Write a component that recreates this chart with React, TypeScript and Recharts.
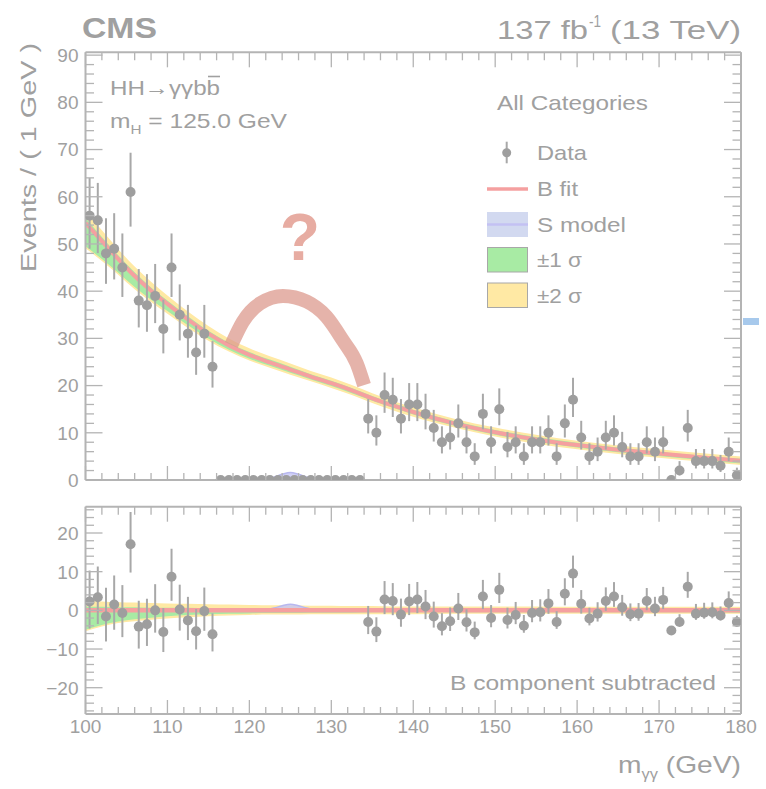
import React from 'react';
import { ComposedChart, Area, Line, Scatter, ErrorBar, XAxis, YAxis } from 'recharts';

// 1 GeV bins, signal region 115-135 blinded
const lowBins = [100.5, 101.5, 102.5, 103.5, 104.5, 105.5, 106.5, 107.5, 108.5, 109.5, 110.5, 111.5, 112.5, 113.5, 114.5, 115.5];
const lowCounts = [56, 55, 48, 49, 45, 61, 38, 37, 39, 32, 45, 35, 31, 27, 31, 24];
const lowResid = [2.3, 3.4, -1.6, 1.5, -0.7, 17.1, -4.2, -3.6, 0.0, -5.6, 8.7, 0.2, -2.6, -5.4, -0.2, -6.2];

const blindBins = [116.5, 117.5, 118.5, 119.5, 120.5, 121.5, 122.5, 123.5, 124.5, 125.5, 126.5, 127.5, 128.5, 129.5, 130.5, 131.5, 132.5, 133.5];

const highBins = [
  134.5, 135.5, 136.5, 137.5, 138.5, 139.5, 140.5, 141.5, 142.5, 143.5, 144.5, 145.5, 146.5, 147.5, 148.5, 149.5,
  150.5, 151.5, 152.5, 153.5, 154.5, 155.5, 156.5, 157.5, 158.5, 159.5, 160.5, 161.5, 162.5, 163.5, 164.5, 165.5,
  166.5, 167.5, 168.5, 169.5, 170.5, 171.5, 172.5, 173.5, 174.5, 175.5, 176.5, 177.5, 178.5, 179.5,
];
const highCounts = [
  13, 10, 18, 17, 13, 16, 16, 14, 11, 8, 9, 12, 8, 5, 14, 8,
  15, 7, 8, 5, 8, 8, 10, 5, 12, 17, 9, 5, 6, 9, 10, 7,
  5, 5, 8, 6, 8, 0, 2, 11, 4, 4, 4, 3, 6, 1,
];
const highResid = [
  -3.0, -5.5, 2.8, 2.4, -1.1, 2.3, 2.8, 1.0, -1.6, -4.1, -2.8, 0.5, -3.1, -5.7, 3.6, -2.0,
  5.3, -2.5, -1.2, -4.0, -0.7, -0.5, 1.8, -3.0, 4.3, 9.5, 1.7, -2.1, -0.9, 2.4, 3.6, 0.8,
  -1.0, -0.9, 2.4, 0.5, 2.7, -5.2, -3.0, 6.1, -0.9, -0.6, -0.5, -1.3, 1.9, -3.0,
];

// background fit and its uncertainty bands (offsets from the fit)
const fitX = [100, 102, 104, 106, 108, 110, 112.5, 115, 117.5, 120, 122.5, 125, 127.5, 130, 132.5, 135, 137.5, 140, 145, 150, 155, 160, 165, 170, 175, 180];
const fitB = [54.5, 50.6, 46.8, 43.2, 40.1, 37.3, 34.0, 31.0, 28.5, 26.5, 24.9, 23.4, 21.9, 20.5, 19.0, 17.3, 15.8, 14.4, 12.0, 10.1, 8.6, 7.4, 6.4, 5.6, 4.8, 4.1];
const sig1Lo = [-5.0, -3.8, -2.9, -2.3, -1.9, -1.5, -1.2, -1.0, -0.9, -0.8, -0.7, -0.7, -0.6, -0.6, -0.6, -0.5, -0.5, -0.5, -0.5, -0.5, -0.5, -0.5, -0.5, -0.5, -0.5, -0.6];
const sig1Hi = [1.0, 0.9, 0.8, 0.8, 0.7, 0.7, 0.7, 0.6, 0.6, 0.6, 0.6, 0.6, 0.5, 0.5, 0.5, 0.5, 0.5, 0.5, 0.5, 0.5, 0.5, 0.5, 0.5, 0.4, 0.4, 0.4];
const sig2Lo = [-5.4, -4.2, -3.3, -2.8, -2.4, -2.1, -1.8, -1.5, -1.3, -1.2, -1.1, -1.1, -1.0, -1.0, -1.0, -1.0, -1.0, -1.0, -0.9, -0.9, -0.9, -0.9, -0.9, -0.9, -0.9, -0.9];
const sig2Hi = [2.5, 2.3, 2.1, 2.0, 1.9, 1.8, 1.7, 1.6, 1.5, 1.4, 1.3, 1.3, 1.2, 1.2, 1.1, 1.1, 1.0, 1.0, 1.0, 1.0, 1.0, 0.9, 0.9, 0.9, 0.9, 0.9];

// signal model
const sigX = [120, 121, 122, 123, 124, 125, 126, 127, 128, 129, 130];
const sigY = [0, 0.05, 0.2, 0.6, 1.2, 1.6, 1.2, 0.6, 0.2, 0.05, 0];

// hand-drawn "?" bump
const arcX = [117.8, 119.2, 121.3, 124.1, 127.0, 129.4, 131.4, 133.1, 134.0];
const arcY = [28.6, 33.5, 37.4, 39.0, 37.8, 34.6, 29.6, 24.7, 20.1];

const xMajor = [100, 110, 120, 130, 140, 150, 160, 170, 180];
const topYMajor = [0, 10, 20, 30, 40, 50, 60, 70, 80, 90];
const botYMajor = [-20, -10, 0, 10, 20];

const FONT = '"Liberation Sans", Arial, Helvetica, sans-serif';
const TXT = '#a0a0a0';
const AX = '#b4b4b4';
const PT = '#9e9e9e';
const RED = '#f5a0a0';
const GREEN = '#a8eba4';
const YELLOW = '#ffe9a4';

const poisson = (n: number) => {
  const s = Math.sqrt(n + 0.25);
  return [s - 0.5, s + 0.5];
};

const steps = (a: number, b: number) => {
  const out: number[] = [];
  for (let v = a; v <= b + 1e-9; v += 2) out.push(v);
  return out;
};
const xTicks = steps(100, 180);
const topYTicks = steps(0, 90);
const botYTicks = steps(-26, 26);

const topPts = [
  ...lowBins.map((x, i) => ({ x, y: lowCounts[i], err: poisson(lowCounts[i]) })),
  ...highBins.map((x, i) => ({ x, y: highCounts[i], err: poisson(highCounts[i]) })),
];
const botPts = [
  ...lowBins.map((x, i) => ({ x, y: lowResid[i], err: poisson(lowCounts[i]) })),
  ...highBins.map((x, i) => ({ x, y: highResid[i], err: poisson(highCounts[i]) })),
];
const blindPts = blindBins.map((x) => ({ x, y: 0 }));

const topBand = fitX.map((x, i) => ({
  x,
  b: fitB[i],
  g: [fitB[i] + sig1Lo[i], fitB[i] + sig1Hi[i]],
  yl: [fitB[i] + sig2Lo[i], fitB[i] + sig2Hi[i]],
}));
const botBand = fitX.map((x, i) => ({
  x,
  b: 0,
  g: [sig1Lo[i], sig1Hi[i]],
  yl: [sig2Lo[i], sig2Hi[i]],
}));
const sigRows = sigX.map((x, i) => ({ x, s: sigY[i] }));
const arcRows = arcX.map((x, i) => ({ x, a: arcY[i] }));

const makeTick = (side: string, major: number, minor: number, labels: number[] | null) => (p: any) => {
  const { x, y, payload } = p;
  const v = Number(payload.value);
  const big = Math.abs(v % 10) < 1e-6;
  const len = big ? major : minor;
  const x2 = side === 'left' ? x + len : side === 'right' ? x - len : x;
  const y2 = side === 'bottom' ? y - len : side === 'top' ? y + len : y;
  let label = null;
  if (labels && labels.includes(v)) {
    const s = v < 0 ? '\u2212' + Math.abs(v) : String(v);
    label =
      side === 'bottom' ? (
        <text x={x} y={y + 19} textAnchor="middle" fill={TXT} fontSize={19} fontFamily={FONT}>{s}</text>
      ) : (
        <text x={x - 7} y={y} dy="0.36em" textAnchor="end" fill={TXT} fontSize={19} fontFamily={FONT}>{s}</text>
      );
  }
  return (
    <g>
      <line x1={x} y1={y} x2={x2} y2={y2} stroke={AX} strokeWidth={1.3} />
      {label}
    </g>
  );
};

const axisLine = { stroke: AX, strokeWidth: 2 };

// axes need a non-zero size to be drawn, so they get 1px and the margins shrink by 1
const Axes = ({ yDomain, yTicks, yLabels, xLabels }: any) => [
  <XAxis key="xb" type="number" dataKey="x" domain={[100, 180]} allowDataOverflow ticks={xTicks} interval={0}
    height={1} tickSize={0} tickMargin={0} tickLine={false} axisLine={axisLine}
    tick={makeTick('bottom', 14, 7, xLabels)} />,
  <XAxis key="xt" xAxisId="top" orientation="top" type="number" dataKey="x" domain={[100, 180]} allowDataOverflow
    ticks={xTicks} interval={0} height={1} tickSize={0} tickMargin={0} tickLine={false} axisLine={axisLine}
    tick={makeTick('top', 15, 8, null)} />,
  <YAxis key="yl" type="number" domain={yDomain} allowDataOverflow ticks={yTicks} interval={0} width={1}
    tickSize={0} tickMargin={0} tickLine={false} axisLine={axisLine}
    tick={makeTick('left', 17, 8.5, yLabels)} />,
  <YAxis key="yr" yAxisId="right" orientation="right" type="number" domain={yDomain} allowDataOverflow ticks={yTicks}
    interval={0} width={1} tickSize={0} tickMargin={0} tickLine={false} axisLine={axisLine}
    tick={makeTick('right', 17, 8.5, null)} />,
];

const txt = { fill: TXT, fontFamily: FONT } as const;

export default function App() {
  return (
    <div style={{ position: 'absolute', left: 0, top: 0, width: 766, height: 789, background: '#fff' }}>
      <ComposedChart width={766} height={500} margin={{ top: 51.3, right: 24, bottom: 19, left: 84.5 }}
        style={{ position: 'absolute', left: 0, top: 0 }}>
        {Axes({ yDomain: [0, 90.6], yTicks: topYTicks, yLabels: topYMajor, xLabels: null })}
        <Area data={topBand} dataKey="yl" type="monotone" fill={YELLOW} fillOpacity={1} stroke="none" isAnimationActive={false} />
        <Area data={topBand} dataKey="g" type="monotone" fill={GREEN} fillOpacity={1} stroke="none" isAnimationActive={false} />
        <Line data={topBand} dataKey="b" type="monotone" stroke={RED} strokeWidth={4} dot={false} isAnimationActive={false} />
        <Area data={sigRows} dataKey="s" type="monotone" baseValue={0} fill="#c6c6f4" fillOpacity={0.8} stroke="#b8b8f0" strokeWidth={1.5} isAnimationActive={false} />
        <Scatter data={topPts} dataKey="y" fill={PT} shape={(p: any) => <circle cx={p.cx} cy={p.cy} r={5} fill={PT} />} isAnimationActive={false}>
          <ErrorBar dataKey="err" direction="y" width={0} stroke="#a8a8a8" strokeWidth={2} />
        </Scatter>
        <Scatter data={blindPts} dataKey="y" fill={PT} shape={(p: any) => <circle cx={p.cx} cy={p.cy} r={5} fill={PT} />} isAnimationActive={false} />
        <Line data={arcRows} dataKey="a" type="monotone" stroke="#dc9a8e" strokeOpacity={0.75} strokeWidth={14} dot={false} isAnimationActive={false} />
      </ComposedChart>

      <ComposedChart width={766} height={299} margin={{ top: 15.7, right: 24, bottom: 74, left: 84.5 }}
        style={{ position: 'absolute', left: 0, top: 490 }}>
        {Axes({ yDomain: [-26.8, 26.8], yTicks: botYTicks, yLabels: botYMajor, xLabels: xMajor })}
        <Area data={botBand} dataKey="yl" type="monotone" fill={YELLOW} fillOpacity={1} stroke="none" isAnimationActive={false} />
        <Area data={botBand} dataKey="g" type="monotone" fill={GREEN} fillOpacity={1} stroke="none" isAnimationActive={false} />
        <Line data={botBand} dataKey="b" type="monotone" stroke={RED} strokeWidth={4.5} dot={false} isAnimationActive={false} />
        <Area data={sigRows} dataKey="s" type="monotone" baseValue={0} fill="#c6c6f4" fillOpacity={0.8} stroke="#b8b8f0" strokeWidth={1.5} isAnimationActive={false} />
        <Scatter data={botPts} dataKey="y" fill={PT} shape={(p: any) => <circle cx={p.cx} cy={p.cy} r={5} fill={PT} />} isAnimationActive={false}>
          <ErrorBar dataKey="err" direction="y" width={0} stroke="#a8a8a8" strokeWidth={2} />
        </Scatter>
      </ComposedChart>

      <svg width={766} height={789} style={{ position: 'absolute', left: 0, top: 0, pointerEvents: 'none' }}>
        <text x={82} y={38} fontSize={29} fontWeight="bold" textLength={75} lengthAdjust="spacingAndGlyphs" {...txt}>CMS</text>
        <text x={497} y={39} fontSize={26} textLength={91} lengthAdjust="spacingAndGlyphs" {...txt}>137 fb</text>
        <text x={589} y={27} fontSize={16} textLength={12} lengthAdjust="spacingAndGlyphs" {...txt}>-1</text>
        <text x={741} y={39} fontSize={26} textAnchor="end" textLength={131} lengthAdjust="spacingAndGlyphs" {...txt}>(13 TeV)</text>

        <text transform="translate(36,43) rotate(-90)" textAnchor="end" fontSize={22} textLength={229} lengthAdjust="spacingAndGlyphs" {...txt}>
          Events / ( 1 GeV )
        </text>

        <text x={110} y={95} fontSize={21} textLength={110} lengthAdjust="spacingAndGlyphs" {...txt}>HH→γγbb</text>
        <line x1={208} x2={220} y1={76.5} y2={76.5} stroke={TXT} strokeWidth={1.6} />
        <text x={110} y={128} fontSize={21} textLength={177} lengthAdjust="spacingAndGlyphs" {...txt}>
          m<tspan dy={6} fontSize={13}>H</tspan><tspan dy={-6}> = 125.0 GeV</tspan>
        </text>

        <text x={497} y={110} fontSize={21} textLength={151} lengthAdjust="spacingAndGlyphs" {...txt}>All Categories</text>

        <line x1={506.7} x2={506.7} y1={141.7} y2={163.3} stroke="#a8a8a8" strokeWidth={2} />
        <circle cx={506.7} cy={152.7} r={4.5} fill={PT} />
        <text x={537} y={160} fontSize={21} textLength={50} lengthAdjust="spacingAndGlyphs" {...txt}>Data</text>

        <line x1={487} x2={528} y1={189} y2={189} stroke={RED} strokeWidth={3.5} />
        <text x={537} y={196} fontSize={21} textLength={41} lengthAdjust="spacingAndGlyphs" {...txt}>B fit</text>

        <rect x={487} y={212} width={41} height={25} fill="#d2d9f0" />
        <line x1={487} x2={528} y1={224.5} y2={224.5} stroke="#c3c1f3" strokeWidth={2.5} />
        <text x={537} y={231.5} fontSize={21} textLength={89} lengthAdjust="spacingAndGlyphs" {...txt}>S model</text>

        <rect x={487.5} y={247.5} width={40} height={24.5} fill={GREEN} stroke="#a8a8a8" strokeWidth={1} />
        <text x={537} y={266.5} fontSize={21} textLength={45} lengthAdjust="spacingAndGlyphs" {...txt}>±1 σ</text>

        <rect x={487.5} y={283} width={40} height={24.5} fill={YELLOW} stroke="#a8a8a8" strokeWidth={1} />
        <text x={537} y={302.5} fontSize={21} textLength={45} lengthAdjust="spacingAndGlyphs" {...txt}>±2 σ</text>

        <text x={300} y={260} fontSize={66} fontWeight="bold" textAnchor="middle" fontFamily={FONT} fill="#e7aca2">?</text>

        <rect x={743} y={318} width={16} height={7} fill="#a7c9ec" />

        <text x={450} y={690} fontSize={21} textLength={266} lengthAdjust="spacingAndGlyphs" {...txt}>B component subtracted</text>

        <text x={741} y={773} fontSize={24} textAnchor="end" textLength={123} lengthAdjust="spacingAndGlyphs" {...txt}>
          m<tspan dy={6} fontSize={14}>γγ</tspan><tspan dy={-6}> (GeV)</tspan>
        </text>
      </svg>
    </div>
  );
}
